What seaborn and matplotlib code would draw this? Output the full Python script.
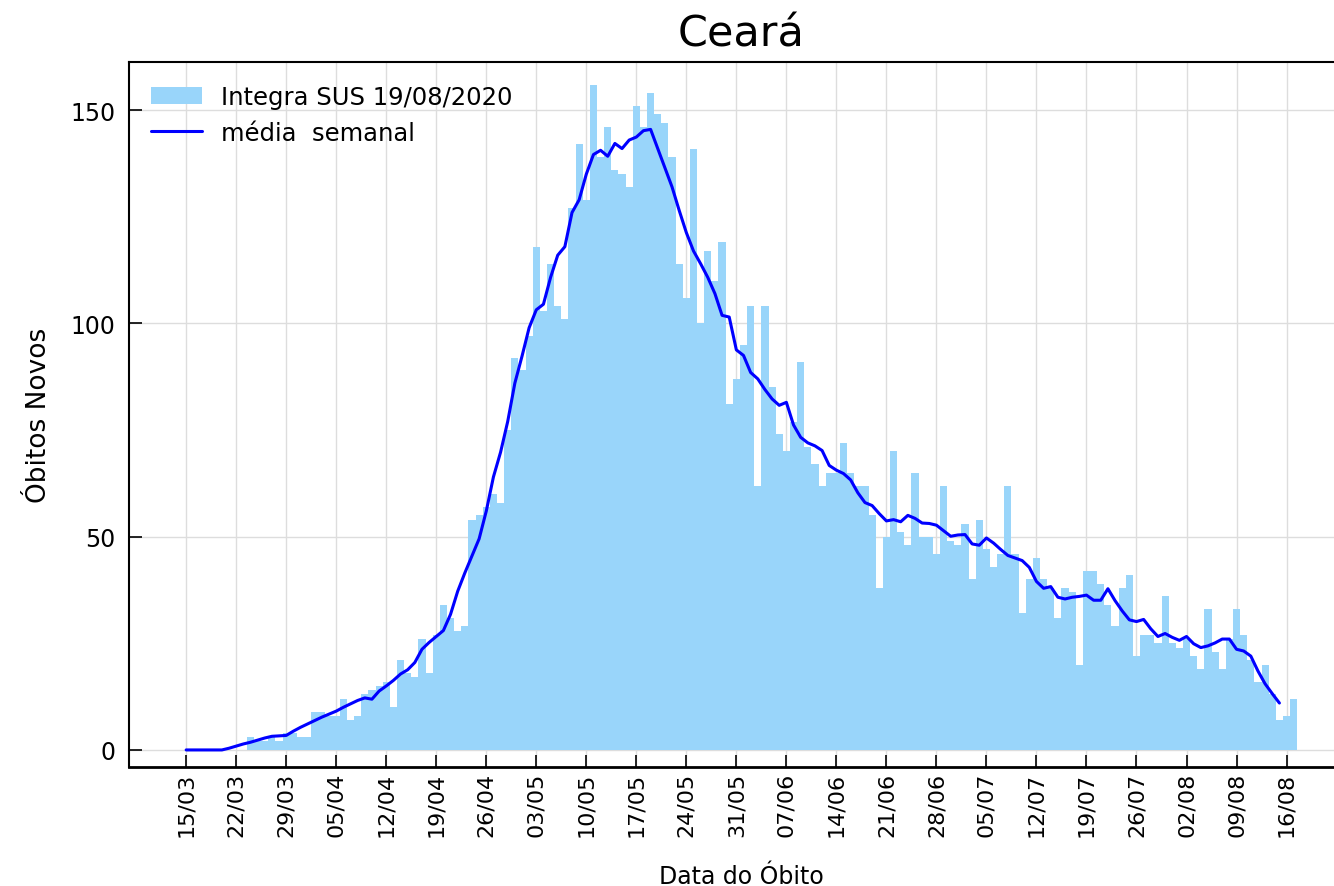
import numpy as np
import pandas as pd
import matplotlib
matplotlib.use("Agg")
import matplotlib.pyplot as plt
import seaborn as sns

# óbitos diários (15/03 a 17/08)
obitos = [0, 0, 0, 0, 0, 0, 0, 0, 0, 3,
          2, 2, 3, 2, 4, 4, 3, 3, 9, 9,
          8, 8, 12, 7, 8, 13, 14, 15, 16, 10,
          21, 18, 17, 26, 18, 27, 34, 31, 28, 29,
          54, 55, 57, 60, 58, 75, 92, 89, 97, 118,
          103, 114, 104, 101, 127, 142, 129, 156, 139, 146,
          136, 135, 132, 151, 146, 154, 149, 147, 139, 114,
          106, 141, 100, 117, 110, 119, 81, 87, 95, 104,
          62, 104, 85, 74, 70, 77, 91, 71, 67, 62,
          65, 65, 72, 65, 62, 62, 55, 38, 50, 70,
          51, 48, 65, 50, 50, 46, 62, 49, 48, 53,
          40, 54, 47, 43, 46, 62, 46, 32, 40, 45,
          40, 38, 31, 38, 37, 20, 42, 42, 39, 34,
          29, 38, 41, 22, 27, 27, 25, 36, 25, 24,
          26, 22, 19, 33, 23, 19, 26, 33, 27, 21,
          16, 20, 13, 7, 8, 12]

# média semanal (15/03 a 15/08)
media = [0, 0, 0, 0, 0, 0, 0.4, 0.9, 1.4, 1.8,
         2.3, 2.8, 3.2, 3.3, 3.4, 4.4, 5.3, 6.1, 6.9, 7.7,
         8.4, 9.1, 10.0, 10.8, 11.6, 12.2, 11.9, 13.8, 15.0, 16.3,
         17.8, 18.8, 20.5, 23.6, 25.2, 26.6, 28.0, 31.8, 37.2, 41.5,
         45.5, 49.5, 56.0, 64.0, 69.8, 77.0, 86.0, 92.3, 99.0, 103.2,
         104.5, 110.8, 116.0, 118.0, 126.0, 129.0, 135.0, 139.6, 140.6, 139.2,
         142.2, 141.0, 143.0, 143.7, 145.2, 145.5, 141.0, 136.5, 132.0, 126.5,
         121.3, 117.0, 114.0, 110.8, 107.0, 101.9, 101.5, 93.8, 92.5, 88.5,
         87.0, 84.5, 82.3, 80.8, 81.5, 76.2, 73.3, 72.0, 71.3, 70.2,
         66.7, 65.6, 64.8, 63.3, 60.3, 58.0, 57.3, 55.4, 53.7, 54.0,
         53.5, 55.0, 54.3, 53.2, 53.1, 52.7, 51.4, 50.1, 50.4, 50.5,
         48.3, 48.0, 49.7, 48.5, 47.0, 45.6, 45.0, 44.4, 42.8, 39.5,
         37.9, 38.3, 35.8, 35.4, 35.8, 36.0, 36.3, 35.1, 35.1, 37.8,
         35.0, 32.6, 30.5, 30.1, 30.6, 28.4, 26.6, 27.3, 26.4, 25.7,
         26.6, 24.9, 24.0, 24.4, 25.1, 26.0, 26.0, 23.6, 23.2, 22.0,
         18.5, 15.5, 13.2, 11.0]

tick_labels = ['15/03', '22/03', '29/03', '05/04', '12/04', '19/04', '26/04',
               '03/05', '10/05', '17/05', '24/05', '31/05', '07/06', '14/06',
               '21/06', '28/06', '05/07', '12/07', '19/07', '26/07', '02/08',
               '09/08', '16/08']

df_bar = pd.DataFrame({'dia': np.arange(len(obitos)), 'obitos': obitos})
df_media = pd.DataFrame({'dia': np.arange(len(media)), 'media': media})

sns.set_theme(style="whitegrid")
plt.rcParams['font.family'] = ['DejaVu Sans']
plt.rcParams['text.color'] = 'black'
plt.rcParams['axes.labelcolor'] = 'black'
plt.rcParams['xtick.color'] = 'black'
plt.rcParams['ytick.color'] = 'black'

fig = plt.figure(figsize=(13.34, 8.87), dpi=100)
ax = fig.add_axes([129 / 1334, 119 / 887, 1224 / 1334, 705 / 887])

sns.barplot(data=df_bar, x='dia', y='obitos', color='#99d5fa', saturation=1,
            width=1.0, linewidth=0, label='Integra SUS 19/08/2020', ax=ax)
sns.lineplot(data=df_media, x='dia', y='media', color='#0000ff', linewidth=2.2,
             label='média  semanal', ax=ax)

ax.set_xlim(-8, 163.3)
ax.set_ylim(-4, 161.3)
ax.set_xticks(np.arange(0, 7 * len(tick_labels), 7))
ax.set_xticklabels(tick_labels, rotation=90, fontsize=16)
ax.set_yticks([0, 50, 100, 150])
ax.tick_params(axis='y', labelsize=17, pad=10)
ax.tick_params(axis='both', direction='in', length=9, width=1.2, color='black',
               bottom=True, left=True)

ax.grid(True, color='#dddddd', linewidth=1)
ax.set_axisbelow(True)
for side in ['left', 'top', 'bottom', 'right']:
    ax.spines[side].set_color('black')
    ax.spines[side].set_linewidth(1.5)
ax.spines['bottom'].set_linewidth(2)

ax.set_title('Ceará', fontsize=31, pad=12)
ax.set_xlabel('Data do Óbito', fontsize=17, labelpad=20)
ax.set_ylabel('Óbitos Novos', fontsize=19, labelpad=13)

# barras primeiro na legenda, depois a média
handles, labels = ax.get_legend_handles_labels()
order = [labels.index('Integra SUS 19/08/2020'), labels.index('média  semanal')]
ax.legend([handles[i] for i in order], [labels[i] for i in order],
          loc='upper left', frameon=False, fontsize=17.5,
          bbox_to_anchor=(0.0, 0.999), handlelength=2.1)

fig.savefig('out.png', dpi=100)
